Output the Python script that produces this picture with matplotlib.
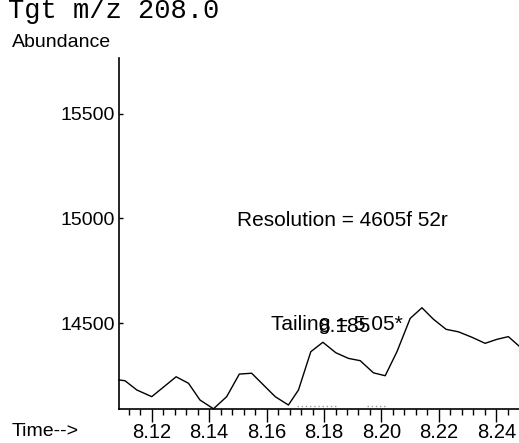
import matplotlib.pyplot as plt
from matplotlib.ticker import MultipleLocator, FixedLocator

# Extracted ion chromatogram, m/z 208.0
times = [8.1086, 8.1107, 8.1148, 8.1200, 8.1285, 8.1328, 8.1368, 8.1415,
         8.1461, 8.1505, 8.1548, 8.1589, 8.1630, 8.1676, 8.1711, 8.1754,
         8.1796, 8.1841, 8.1885, 8.1926, 8.1972, 8.2013, 8.2054, 8.2100,
         8.2141, 8.2181, 8.2225, 8.2268, 8.2315, 8.2361, 8.2402, 8.2442,
         8.2479]
abundance = [14228, 14224, 14180, 14148, 14243, 14212, 14132, 14090,
             14148, 14256, 14260, 14204, 14148, 14108, 14180, 14363,
             14408, 14358, 14331, 14320, 14262, 14248, 14363, 14522,
             14573, 14518, 14470, 14458, 14432, 14403, 14422, 14435,
             14390]

# faint integration baseline pieces
base_t = [(8.1707, 8.1850), (8.1950, 8.2013)]
base_y = 14105

y_ticks = [14500, 15000, 15500]
x_major = [8.12, 8.14, 8.16, 8.18, 8.20, 8.22, 8.24]

SANS = "Liberation Sans"
FS = 14.5

fig = plt.figure(figsize=(5.19, 4.43), dpi=100)
ax = fig.add_axes([119 / 519, 1 - 409 / 443, 1 - 119 / 519, (409 - 58) / 443])

ax.plot(times, abundance, color="black", lw=1.0, clip_on=False)
for t0, t1 in base_t:
    ax.plot([t0, t1], [base_y, base_y], color="#999999", lw=1.0, ls=(0, (1, 2)))

ax.set_xlim(8.1086, 8.2479)
ax.set_ylim(14089, 15767)

ax.xaxis.set_major_locator(FixedLocator(x_major))
ax.xaxis.set_minor_locator(MultipleLocator(0.004))
ax.set_xticklabels([f"{v:.2f}" for v in x_major], fontfamily=SANS, fontsize=FS)
ax.yaxis.set_major_locator(FixedLocator(y_ticks))
ax.set_yticklabels([str(v) for v in y_ticks], fontfamily=SANS, fontsize=14)

ax.tick_params(axis="x", which="major", direction="out", length=9, width=1, pad=1)
ax.tick_params(axis="x", which="minor", direction="out", length=4.5, width=1)
ax.yaxis.set_tick_params(which="major", direction="in", length=3, width=1, pad=3)

for s in ["top", "right"]:
    ax.spines[s].set_visible(False)
for s in ["left", "bottom"]:
    ax.spines[s].set_linewidth(1.2)

# header and axis captions
fig.text(8 / 519, 1 - 18.5 / 443, "Tgt m/z 208.0", family="Liberation Mono",
         fontsize=19.5, va="baseline", ha="left")
fig.text(12 / 519, 1 - 46.7 / 443, "Abundance", family=SANS, fontsize=14,
         va="baseline", ha="left")
fig.text(12 / 519, 1 - 435.7 / 443, "Time-->", family=SANS, fontsize=14,
         va="baseline", ha="left")

# peak annotations (overlapping as in the original printout)
fig.text(237 / 519, 1 - 221 / 443, "Resolution = 4605f 52r", family=SANS,
         fontsize=15, va="center", ha="left")
fig.text(271 / 519, 1 - 325 / 443, "Tailing = 5.05*", family=SANS,
         fontsize=15, va="center", ha="left")
fig.text(318 / 519, 1 - 326 / 443, "8.185", family=SANS,
         fontsize=15, va="center", ha="left")

fig.savefig("out.png", dpi=100)
